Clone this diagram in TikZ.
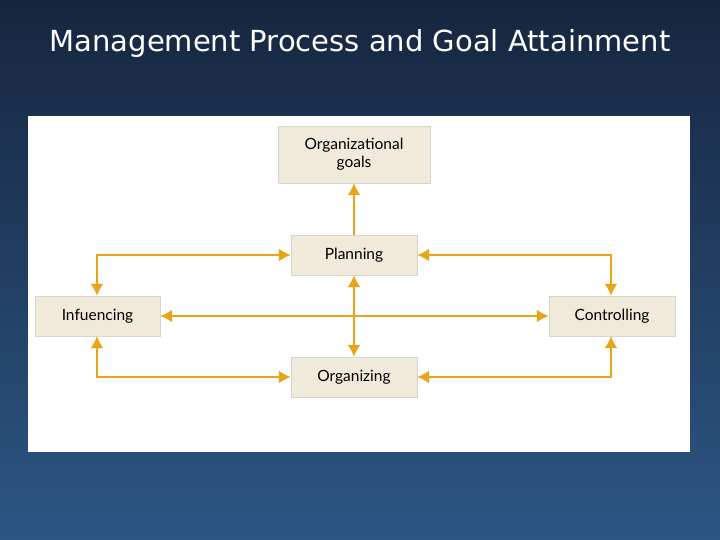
\documentclass[tikz,border=0pt]{standalone}
\usepackage{fontspec}
\setmainfont{Lato}
\newfontfamily\titlefont{DejaVu Sans}
\usetikzlibrary{arrows.meta}
\definecolor{navy_top}{RGB}{22,38,63}
\definecolor{navy_bottom}{RGB}{44,86,132}
\definecolor{box_beige}{RGB}{239,234,218}
\definecolor{box_shadow}{RGB}{215,212,204}
\definecolor{pfeil_gelb}{RGB}{233,165,25}
\begin{document}
\begin{tikzpicture}[
      x=1pt, y=-1pt,
      stufe/.style={
        draw=box_shadow,
        fill=box_beige,
        font=\fontsize{15.5}{18}\selectfont,
        align=center,
        inner sep=0pt
      },
      pfeil/.style={
        pfeil_gelb,
        line width=1.6pt,
        -{Latex[length=12pt,width=13pt]}
      },
      doppelpfeil/.style={
        pfeil,
        {Latex[length=12pt,width=13pt]}-{Latex[length=12pt,width=13pt]}
      }
    ]

      % Hintergrund
      \shade [top color=navy_top, bottom color=navy_bottom] (0,0) rectangle (720,540);
      \useasboundingbox (0,0) rectangle (720,540);
      \fill [white] (28,116) rectangle (690,452);
      \node [text=white, font=\titlefont\fontsize{29}{34}\selectfont] (titel) at (360,44) {Management Process and Goal Attainment};

      % Kaesten
      \node [stufe, minimum width=152pt, minimum height=57pt] (ziele) at (354,154.5) {Organizational\\goals};
      \node [stufe, minimum width=126pt, minimum height=40pt] (planung) at (354,255) {Planning};
      \node [stufe, minimum width=126pt, minimum height=40pt] (organisation) at (354,377) {Organizing};
      \node [stufe, minimum width=125pt, minimum height=40pt] (fuehrung) at (97.5,316) {Infuencing};
      \node [stufe, minimum width=126pt, minimum height=40pt] (kontrolle) at (612,316) {Controlling};

      % Ecken
      \coordinate (ol) at (97,255);
      \coordinate (or) at (611,255);
      \coordinate (ul) at (97,377);
      \coordinate (ur) at (611,377);

      % Pfeile
      \draw [pfeil] (planung) -- (ziele);
      \draw [doppelpfeil] (planung) -- (organisation);
      \draw [doppelpfeil] (fuehrung) -- (kontrolle);
      \draw [doppelpfeil] (fuehrung.north -| ol) -- (ol) -- (planung.west);
      \draw [doppelpfeil] (kontrolle.north -| or) -- (or) -- (planung.east);
      \draw [doppelpfeil] (fuehrung.south -| ul) -- (ul) -- (organisation.west);
      \draw [doppelpfeil] (kontrolle.south -| ur) -- (ur) -- (organisation.east);
    \end{tikzpicture}
\end{document}
